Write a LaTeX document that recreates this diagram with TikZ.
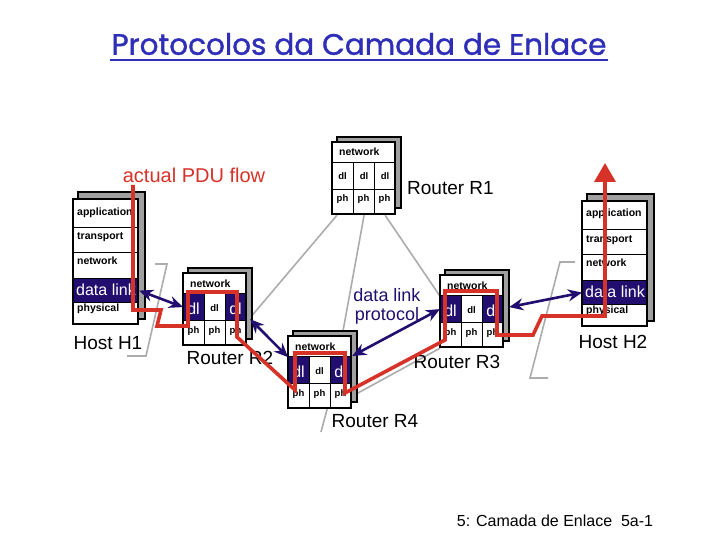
\documentclass[tikz,border=0pt]{standalone}
\usepackage{fontspec}
\setmainfont{Liberation Sans}
\newfontfamily\titlefont{Poppins}[FakeBold=1.2]
\usetikzlibrary{arrows.meta,calc}
\pgfdeclarelayer{back}
\pgfdeclarelayer{links}
\pgfsetlayers{back,links,main}
\definecolor{navy}{RGB}{34,14,110}
\definecolor{pdured}{RGB}{214,50,40}
\definecolor{linkgray}{RGB}{172,172,172}
\definecolor{shadowgray}{RGB}{160,160,160}
\definecolor{titleblue}{RGB}{46,46,184}
\tikzset{
  shadowbox/.style={draw=black, fill=shadowgray, line width=1.5pt},
  cellbox/.style={draw=black, fill=white, line width=1.2pt, inner sep=0pt, anchor=north west},
  darkcell/.style={cellbox, fill=navy},
  outlinebox/.style={draw=black, line width=2pt},
  smalltxt/.style={font=\fontsize{10.5}{12}\selectfont\bfseries, inner sep=0pt, anchor=base west},
  tinytxt/.style={font=\fontsize{9.5}{11}\selectfont\bfseries, inner sep=0pt, anchor=base},
  bigwhite/.style={font=\fontsize{16}{18}\selectfont, text=white, inner sep=0pt, anchor=base west},
  dlwhite/.style={font=\fontsize{16}{18}\selectfont, text=white, inner sep=0pt, anchor=base},
  namelabel/.style={font=\fontsize{19}{22}\selectfont, inner sep=0pt},
  link/.style={draw=linkgray, line width=1.6pt},
  dlarrow/.style={draw=navy, line width=2.6pt, arrows={Stealth[length=14pt,width=12pt]-Stealth[length=14pt,width=12pt]}},
  pduflow/.style={draw=pdured, line width=3.6pt, line join=miter},
}
% host stack: #1 prefix, #2 x, #3 y
\newcommand\hoststack[3]{%
  \draw[shadowbox] (#2+5,#3-7) rectangle (#2+72,#3+120);
  \node[cellbox, minimum width=65pt, minimum height=28pt] (#1app) at (#2,#3) {};
  \node[cellbox, minimum width=65pt, minimum height=25pt] (#1tra) at (#2,#3+28) {};
  \node[cellbox, minimum width=65pt, minimum height=26pt] (#1net) at (#2,#3+53) {};
  \node[darkcell, minimum width=65pt, minimum height=24pt] (#1dl) at (#2,#3+79) {};
  \node[cellbox, minimum width=65pt, minimum height=22pt] (#1phy) at (#2,#3+103) {};
  \draw[outlinebox] (#2,#3) rectangle (#2+65,#3+125);
  \node[smalltxt] (#1appt) at (#2+4,#3+16) {application};
  \node[smalltxt] (#1trat) at (#2+4,#3+41) {transport};
  \node[smalltxt] (#1nett) at (#2+4,#3+65) {network};
  \node[bigwhite] (#1dlt) at (#2+3,#3+96) {data link};
  \node[smalltxt] (#1phyt) at (#2+4,#3+112) {physical};
}
% router: #1 prefix, #2 x, #3 y, #4 fill of outer dl cells
\newcommand\routerstack[4]{%
  \draw[shadowbox] (#2+5,#3-5) rectangle (#2+69,#3+66);
  \node[cellbox, minimum width=63pt, minimum height=20pt] (#1net) at (#2,#3) {};
  \node[cellbox, fill=#4, minimum width=21pt, minimum height=27pt] (#1d1) at (#2,#3+20) {};
  \node[cellbox, minimum width=21pt, minimum height=27pt] (#1d2) at (#2+21,#3+20) {};
  \node[cellbox, fill=#4, minimum width=21pt, minimum height=27pt] (#1d3) at (#2+42,#3+20) {};
  \node[cellbox, minimum width=21pt, minimum height=25pt] (#1p1) at (#2,#3+47) {};
  \node[cellbox, minimum width=21pt, minimum height=25pt] (#1p2) at (#2+21,#3+47) {};
  \node[cellbox, minimum width=21pt, minimum height=25pt] (#1p3) at (#2+42,#3+47) {};
  \draw[outlinebox] (#2,#3) rectangle (#2+63,#3+72);
  \node[smalltxt] (#1nett) at (#2+7,#3+14) {network};
  \node[tinytxt] (#1p1t) at (#2+10.5,#3+60) {ph};
  \node[tinytxt] (#1p2t) at (#2+31.5,#3+60) {ph};
  \node[tinytxt] (#1p3t) at (#2+52.5,#3+60) {ph};
}
\begin{document}
\begin{tikzpicture}[x=1pt,y=-1pt]
\begin{pgfonlayer}{back}
\fill[white] (0,0) rectangle (720,540);
\end{pgfonlayer}
\useasboundingbox (0,0) rectangle (720,540);

% title
\node[font=\titlefont\fontsize{29.5}{33}\selectfont, text=titleblue, inner sep=0pt] (title) at (359,44) {Protocolos da Camada de Enlace};
\draw[titleblue, line width=2pt] (110,60) -- (608,60);

% gray brackets
\coordinate (b1a) at (155,264); \coordinate (b1b) at (167,264);
\coordinate (b1c) at (146,356); \coordinate (b1d) at (127,356);
\draw[link] (b1a) -- (b1b) -- (b1c) -- (b1d);
\coordinate (b2a) at (575,262); \coordinate (b2b) at (560,262);
\coordinate (b2c) at (530,378); \coordinate (b2d) at (548,378);
\draw[link] (b2a) -- (b2b) -- (b2c) -- (b2d);

% stacks
\hoststack{h1}{73}{199}
\hoststack{h2}{582}{201}
\routerstack{r1}{332}{142}{white}
\routerstack{r2}{183}{273}{navy}
\routerstack{r3}{440}{275}{navy}
\routerstack{r4}{288}{336}{navy}

% gray links between routers (behind the stacks)
\begin{pgfonlayer}{links}
\draw[link] ($(r1p1.south west)+(5,0)$) -- (r2d3.south east);
\draw[link] (r1p2.south) -- ($(r4net.north)+(22,0)$);
\draw[link] (r1p3.south) -- (r3net.south west);
\draw[link] (r4p3.east) -- (r3p1.south west);
\coordinate (r4down) at (321,432);
\draw[link] ($(r4p2.south)+(7,0)$) -- (r4down);
\end{pgfonlayer}

% dl labels
\node[tinytxt] at (342.5,180) {dl};
\node[tinytxt] at (364,180) {dl};
\node[tinytxt] at (385,180) {dl};
\foreach \r/\x/\y in {r2/183/273, r3/440/275, r4/288/336}{
  \node[dlwhite] at (\x+10.5,\y+41) {dl};
  \node[tinytxt] at (\x+31.5,\y+38) {dl};
  \node[dlwhite] at (\x+52.5,\y+41) {dl};
}

% labels
\node[namelabel, anchor=west] (r1lab) at (407,188) {Router R1};
\node[namelabel] (r2lab) at (230,358) {Router R2};
\node[namelabel] (r3lab) at (457,362) {Router R3};
\node[namelabel] (r4lab) at (375,421) {Router R4};
\node[namelabel] (h1lab) at (108,343) {Host H1};
\node[namelabel] (h2lab) at (613,342) {Host H2};
\node[font=\fontsize{20}{22}\selectfont, text=pdured, inner sep=0pt] (pdulab) at (194,175) {actual PDU flow};
\node[font=\fontsize{18}{20}\selectfont, text=navy, align=center, inner sep=0pt] (dllab) at (387,306) {data link\\[-1pt]protocol};

% blue arrows
\draw[dlarrow] (h1dl.east) -- (r2d1.west);
\draw[dlarrow] ($(r2d3.south east)+(3,-2)$) -- (r4net.south west);
\draw[dlarrow] (r4d3.north east) -- (r3d1.west);
\draw[dlarrow] ($(r3d3.east)+(5,-2)$) -- (h2dl.west);

% red flow
\coordinate (f0) at (133,185);
\coordinate (f1) at (133,310);
\coordinate (f2) at (161,310);
\coordinate (f3) at (157,326);
\coordinate (f4) at (188,326);
\coordinate (f5) at (188,292);
\coordinate (f6) at (237,292);
\coordinate (f7) at (237,337);
\coordinate (f8) at (295,390);
\coordinate (f9) at (295,353);
\coordinate (f10) at (345,353);
\coordinate (f11) at (345,393);
\coordinate (f12) at (445,340);
\coordinate (f13) at (445,291);
\coordinate (f14) at (497,291);
\coordinate (f15) at (497,335);
\coordinate (f16) at (533,335);
\coordinate (f17) at (542,316);
\coordinate (f18) at (605,316);
\coordinate (f19) at (605,163);
\draw[pduflow, -{Triangle[length=19pt,width=21pt]}] (f0) -- (f1) -- (f2) -- (f3) -- (f4) -- (f5) -- (f6) -- (f7) -- (f8) -- (f9) -- (f10) -- (f11) -- (f12) -- (f13) -- (f14) -- (f15) -- (f16) -- (f17) -- (f18) -- (f19);

% footer
\node[font=\fontsize{16}{18}\selectfont, inner sep=0pt] (footer) at (555,521) {5: Camada de Enlace\ \ 5a-1};
\end{tikzpicture}
\end{document}
